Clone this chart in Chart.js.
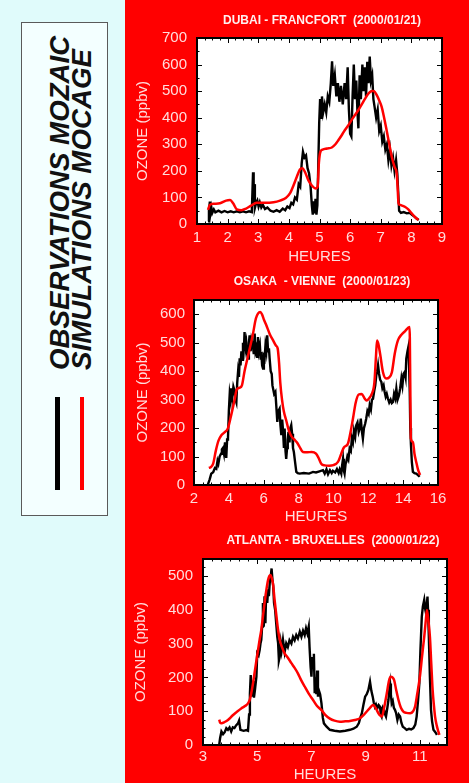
<!DOCTYPE html>
<html>
<head>
<meta charset="utf-8">
<script src="https://cdn.jsdelivr.net/npm/chart.js@4.4.0/dist/chart.umd.min.js"></script>
<style>
  html, body { margin: 0; padding: 0; }
  body { width: 469px; height: 783px; position: relative; overflow: hidden; background: #ff0000; }
  #side { position: absolute; left: 0; top: 0; width: 125px; height: 783px; background: #e0fbfb; }
  #key { position: absolute; left: 21px; top: 22px; width: 87px; height: 494px; box-sizing: border-box;
         border: 1.5px solid #5a5a5a; background: #f3ffff; }
  .key-text { position: absolute; top: 370px; white-space: nowrap; color: #111;
              font: italic bold 27.7px/27px 'Liberation Sans', Arial, sans-serif;
              transform-origin: 0 0; transform: rotate(-90deg); }
  .key-line { position: absolute; top: 397px; height: 93px; }
  canvas { position: absolute; left: 125px; }
</style>
</head>
<body>
<div id="side"></div>
<div id="key"></div>
<div class="key-text" style="left:46px">OBSERVATIONS MOZAIC</div>
<div class="key-text" style="left:68px">SIMULATIONS MOCAGE</div>
<div class="key-line" style="left:55px; width:5px; background:#000"></div>
<div class="key-line" style="left:80px; width:4px; background:#ff0000"></div>

<canvas id="dubai" width="344" height="270" style="top:0px"></canvas>
<canvas id="osaka" width="344" height="255" style="top:270px"></canvas>
<canvas id="atlanta" width="344" height="258" style="top:525px"></canvas>

<script>
// flight hours / ozone (ppbv) pairs, MOZAIC measurements and MOCAGE model
const dubaiObs = [
  [1.36, 10], [1.39, 50], [1.42, 84], [1.44, 40], [1.47, 62], [1.50, 42], [1.55, 55], [1.60, 44],
  [1.70, 50], [1.80, 44], [1.90, 49], [2.00, 44], [2.10, 48], [2.20, 44], [2.30, 48], [2.40, 44],
  [2.50, 48], [2.60, 44], [2.70, 48], [2.79, 45], [2.81, 120], [2.83, 195], [2.85, 70], [2.87, 150],
  [2.89, 60], [2.93, 78], [2.97, 88], [3.01, 66], [3.05, 82], [3.10, 62], [3.15, 72], [3.22, 56],
  [3.30, 62], [3.40, 50], [3.50, 46], [3.60, 52], [3.70, 46], [3.80, 58], [3.88, 52], [3.95, 66],
  [4.02, 60], [4.08, 80], [4.14, 74], [4.20, 100], [4.26, 92], [4.32, 150], [4.37, 140], [4.42, 230],
  [4.46, 272], [4.51, 250], [4.56, 258], [4.61, 210], [4.66, 190], [4.71, 140], [4.75, 70], [4.78, 35],
  [4.81, 85], [4.84, 40], [4.87, 95], [4.90, 35], [4.93, 70], [4.96, 220], [4.99, 380], [5.02, 470],
  [5.05, 400], [5.08, 480], [5.12, 420], [5.17, 450], [5.22, 420], [5.27, 480], [5.32, 460], [5.37, 530],
  [5.41, 612], [5.45, 520], [5.50, 560], [5.55, 480], [5.60, 530], [5.65, 460], [5.70, 520], [5.76, 450],
  [5.82, 530], [5.87, 470], [5.92, 590], [5.96, 430], [6.00, 340], [6.04, 330], [6.08, 480], [6.12, 600],
  [6.16, 470], [6.20, 540], [6.24, 420], [6.27, 360], [6.31, 560], [6.35, 470], [6.40, 600], [6.44, 500],
  [6.48, 590], [6.52, 480], [6.56, 610], [6.60, 530], [6.64, 630], [6.68, 540], [6.72, 560], [6.76, 470],
  [6.80, 440], [6.85, 400], [6.90, 430], [6.95, 350], [7.00, 370], [7.05, 310], [7.10, 330], [7.15, 280],
  [7.20, 300], [7.25, 240], [7.30, 280], [7.35, 220], [7.40, 250], [7.45, 200], [7.50, 240], [7.54, 190],
  [7.57, 120], [7.60, 50], [7.66, 42], [7.75, 45], [7.85, 40], [7.95, 42], [8.02, 35], [8.10, 28],
  [8.18, 20], [8.24, 15]
];
const dubaiSim = [
  [1.36, 53], [1.42, 72], [1.55, 76], [1.75, 78], [1.95, 88], [2.08, 90], [2.18, 78], [2.30, 55],
  [2.45, 52], [2.60, 58], [2.75, 68], [2.95, 80], [3.20, 80], [3.50, 82], [3.71, 88], [3.90, 98],
  [4.04, 116], [4.15, 145], [4.26, 178], [4.36, 205], [4.44, 210], [4.54, 192], [4.63, 166], [4.75, 145],
  [4.88, 134], [4.94, 140], [4.98, 230], [5.03, 272], [5.10, 280], [5.25, 284], [5.40, 288], [5.52, 300],
  [5.62, 316], [5.73, 335], [5.83, 354], [5.95, 373], [6.05, 392], [6.16, 410], [6.27, 429], [6.38, 450],
  [6.49, 472], [6.58, 488], [6.65, 497], [6.72, 501], [6.78, 500], [6.87, 485], [6.95, 465], [7.03, 441],
  [7.11, 400], [7.19, 354], [7.28, 300], [7.36, 253], [7.45, 215], [7.52, 191], [7.55, 140], [7.58, 78],
  [7.63, 72], [7.72, 68], [7.80, 64], [7.90, 55], [8.01, 40], [8.12, 26], [8.23, 15]
];

const osakaObs = [
  [2.80, 2], [2.90, 20], [2.99, 40], [3.10, 45], [3.20, 60], [3.28, 57], [3.35, 85], [3.40, 75],
  [3.47, 100], [3.55, 110], [3.60, 125], [3.66, 130], [3.72, 110], [3.78, 150], [3.85, 95], [3.90, 160],
  [3.95, 165], [4.00, 260], [4.05, 320], [4.10, 300], [4.14, 340], [4.20, 310], [4.26, 345], [4.33, 330],
  [4.38, 300], [4.43, 290], [4.48, 360], [4.53, 400], [4.58, 380], [4.62, 445], [4.67, 420], [4.72, 470],
  [4.78, 440], [4.81, 500], [4.86, 470], [4.90, 537], [4.95, 480], [5.00, 500], [5.05, 460], [5.10, 444],
  [5.15, 500], [5.19, 526], [5.25, 470], [5.30, 510], [5.38, 490], [5.43, 460], [5.48, 532], [5.53, 470],
  [5.57, 480], [5.62, 450], [5.67, 520], [5.72, 470], [5.78, 490], [5.83, 440], [5.86, 467], [5.91, 420],
  [5.96, 409], [6.01, 450], [6.05, 444], [6.10, 490], [6.15, 470], [6.20, 526], [6.25, 470], [6.30, 480],
  [6.34, 444], [6.40, 400], [6.46, 390], [6.50, 350], [6.54, 338], [6.60, 320], [6.67, 327], [6.72, 280],
  [6.78, 222], [6.84, 260], [6.91, 268], [6.96, 210], [7.01, 175], [7.06, 230], [7.11, 190], [7.16, 130],
  [7.20, 198], [7.25, 120], [7.29, 92], [7.34, 130], [7.38, 160], [7.42, 187], [7.48, 150], [7.53, 200],
  [7.58, 210], [7.63, 180], [7.68, 130], [7.73, 116], [7.80, 80], [7.87, 46], [7.95, 42], [8.06, 40],
  [8.30, 42], [8.60, 40], [8.83, 46], [9.00, 44], [9.20, 48], [9.40, 52], [9.50, 40], [9.60, 55],
  [9.69, 38], [9.80, 52], [9.90, 42], [9.97, 50], [10.10, 44], [10.20, 56], [10.30, 42], [10.36, 55],
  [10.45, 40], [10.50, 70], [10.55, 92], [10.60, 50], [10.64, 40], [10.70, 75], [10.74, 81], [10.80, 100],
  [10.86, 90], [10.93, 128], [11.00, 120], [11.06, 165], [11.12, 151], [11.18, 190], [11.25, 170], [11.31, 210],
  [11.38, 220], [11.45, 187], [11.51, 200], [11.57, 233], [11.63, 190], [11.69, 163], [11.75, 200], [11.82, 215],
  [11.88, 233], [11.95, 260], [12.02, 250], [12.08, 280], [12.15, 265], [12.21, 300], [12.27, 303], [12.34, 330],
  [12.40, 350], [12.46, 386], [12.51, 400], [12.56, 421], [12.62, 390], [12.68, 370], [12.75, 362], [12.81, 340],
  [12.88, 350], [12.94, 327], [13.00, 310], [13.06, 320], [13.13, 303], [13.20, 290], [13.28, 300], [13.35, 288],
  [13.42, 292], [13.48, 320], [13.55, 305], [13.61, 338], [13.68, 300], [13.76, 315], [13.83, 340], [13.90, 374],
  [13.96, 350], [14.02, 390], [14.09, 397], [14.14, 380], [14.18, 444], [14.25, 470], [14.30, 485], [14.34, 420],
  [14.38, 327], [14.41, 200], [14.45, 139], [14.50, 80], [14.56, 46], [14.65, 42], [14.75, 40], [14.85, 35],
  [14.95, 29]
];
const osakaSim = [
  [2.85, 60], [2.95, 62], [3.10, 75], [3.25, 120], [3.40, 155], [3.57, 175], [3.75, 185], [3.95, 200],
  [4.15, 250], [4.33, 300], [4.45, 335], [4.62, 342], [4.75, 350], [4.90, 400], [5.05, 440], [5.20, 480],
  [5.38, 530], [5.55, 585], [5.67, 602], [5.80, 608], [5.90, 600], [6.02, 580], [6.15, 561], [6.35, 530],
  [6.54, 508], [6.70, 490], [6.80, 480], [6.88, 430], [6.95, 360], [7.05, 300], [7.15, 260], [7.30, 225],
  [7.45, 190], [7.60, 170], [7.75, 160], [7.90, 150], [8.05, 135], [8.25, 116], [8.50, 115], [8.75, 116],
  [9.00, 110], [9.15, 95], [9.30, 75], [9.50, 69], [9.75, 68], [10.00, 70], [10.26, 81], [10.45, 110],
  [10.60, 132], [10.83, 145], [10.98, 185], [11.12, 233], [11.28, 290], [11.45, 318], [11.62, 320], [11.78, 305],
  [11.90, 297], [12.05, 305], [12.20, 320], [12.35, 360], [12.44, 450], [12.50, 508], [12.58, 495], [12.68, 460],
  [12.84, 397], [13.03, 374], [13.20, 378], [13.35, 395], [13.52, 462], [13.70, 508], [13.90, 528], [14.10, 540],
  [14.37, 555], [14.41, 350], [14.44, 163], [14.56, 151], [14.65, 110], [14.75, 81], [14.85, 55], [14.97, 35]
];

const atlantaObs = [
  [3.60, 2], [3.63, 20], [3.68, 40], [3.74, 32], [3.80, 38], [3.86, 50], [3.92, 45], [3.98, 52],
  [4.04, 40], [4.10, 52], [4.16, 50], [4.22, 58], [4.29, 64], [4.33, 72], [4.38, 45], [4.50, 42],
  [4.60, 44], [4.66, 42], [4.70, 90], [4.73, 150], [4.76, 207], [4.79, 160], [4.81, 143], [4.85, 190],
  [4.88, 140], [4.92, 165], [4.97, 202], [5.00, 271], [5.05, 265], [5.09, 281], [5.12, 300], [5.15, 311],
  [5.18, 350], [5.21, 420], [5.24, 350], [5.27, 440], [5.30, 360], [5.33, 450], [5.37, 420], [5.40, 460],
  [5.43, 440], [5.46, 478], [5.50, 500], [5.53, 522], [5.56, 490], [5.59, 470], [5.62, 420], [5.66, 400],
  [5.70, 360], [5.74, 320], [5.77, 301], [5.80, 250], [5.83, 261], [5.87, 300], [5.90, 280], [5.95, 311],
  [6.01, 275], [6.07, 301], [6.13, 290], [6.19, 310], [6.26, 300], [6.32, 320], [6.38, 310], [6.44, 325],
  [6.50, 315], [6.57, 335], [6.63, 320], [6.69, 338], [6.75, 325], [6.80, 345], [6.85, 330], [6.90, 350],
  [6.93, 290], [6.97, 230], [7.00, 202], [7.03, 260], [7.06, 230], [7.09, 270], [7.12, 153], [7.15, 200],
  [7.18, 150], [7.21, 220], [7.24, 143], [7.28, 160], [7.32, 150], [7.37, 123], [7.42, 80], [7.46, 64],
  [7.55, 55], [7.68, 45], [7.85, 42], [8.05, 40], [8.25, 42], [8.42, 45], [8.55, 48], [8.67, 54],
  [8.75, 65], [8.80, 80], [8.86, 94], [8.92, 120], [8.98, 143], [9.04, 150], [9.10, 163], [9.16, 187],
  [9.21, 160], [9.26, 143], [9.30, 125], [9.34, 113], [9.38, 120], [9.43, 108], [9.48, 118], [9.53, 113],
  [9.56, 90], [9.59, 84], [9.64, 110], [9.68, 104], [9.72, 90], [9.75, 84], [9.80, 110], [9.84, 133],
  [9.88, 170], [9.90, 182], [9.93, 150], [9.96, 123], [10.00, 130], [10.04, 110], [10.08, 104], [10.12, 95],
  [10.17, 74], [10.22, 90], [10.27, 84], [10.32, 65], [10.37, 54], [10.44, 50], [10.51, 45], [10.60, 48],
  [10.68, 46], [10.76, 50], [10.83, 60], [10.88, 84], [10.93, 130], [10.98, 182], [11.02, 280], [11.07, 379],
  [11.11, 410], [11.16, 429], [11.20, 400], [11.23, 389], [11.26, 420], [11.28, 439], [11.30, 400], [11.33, 320],
  [11.37, 200], [11.41, 104], [11.45, 70], [11.50, 45], [11.57, 38], [11.63, 30]
];
const atlantaSim = [
  [3.60, 75], [3.63, 66], [3.68, 64], [3.80, 68], [3.92, 74], [4.10, 88], [4.25, 98], [4.41, 108],
  [4.55, 115], [4.66, 123], [4.73, 135], [4.78, 153], [4.85, 185], [4.90, 212], [4.97, 250], [5.03, 281],
  [5.09, 312], [5.15, 340], [5.21, 380], [5.27, 419], [5.34, 460], [5.40, 488], [5.45, 500], [5.49, 503],
  [5.53, 495], [5.58, 478], [5.64, 430], [5.71, 380], [5.77, 340], [5.83, 311], [5.92, 288], [6.01, 271],
  [6.13, 258], [6.26, 242], [6.38, 228], [6.50, 212], [6.62, 192], [6.75, 173], [6.90, 152], [7.06, 133],
  [7.20, 116], [7.37, 103], [7.50, 90], [7.68, 78], [7.85, 72], [8.05, 69], [8.25, 70], [8.42, 71],
  [8.60, 74], [8.79, 79], [8.92, 88], [9.04, 99], [9.16, 110], [9.28, 118], [9.38, 108], [9.47, 94],
  [9.55, 86], [9.60, 84], [9.68, 110], [9.78, 153], [9.86, 190], [9.92, 202], [9.99, 200], [10.05, 192],
  [10.12, 165], [10.21, 133], [10.30, 110], [10.39, 99], [10.50, 95], [10.64, 94], [10.75, 100], [10.82, 113],
  [10.90, 150], [11.00, 202], [11.08, 262], [11.16, 320], [11.22, 370], [11.26, 399], [11.31, 370], [11.37, 320],
  [11.42, 240], [11.47, 163], [11.52, 115], [11.56, 84], [11.62, 58], [11.68, 40], [11.72, 30]
];

// axis labels
const dubaiHourTicks = [1, 2, 3, 4, 5, 6, 7, 8, 9];
const dubaiOzoneTicks = [0, 100, 200, 300, 400, 500, 600, 700];
const osakaHourTicks = [2, 4, 6, 8, 10, 12, 14, 16];
const osakaOzoneTicks = [0, 100, 200, 300, 400, 500, 600];
const atlantaHourTicks = [3, 5, 7, 9, 11];
const atlantaOzoneTicks = [0, 100, 200, 300, 400, 500];

const FONT = "'Liberation Sans', Arial, sans-serif";
const LABEL_COLOR = '#ffdcdc';

// white plot box, black frame and IDL-style inward ticks on all four sides
const framePlugin = {
  id: 'frame',
  beforeDatasetsDraw(chart) {
    const { ctx, chartArea: a } = chart;
    ctx.save();
    ctx.fillStyle = '#ffffff';
    ctx.fillRect(a.left, a.top, a.right - a.left, a.bottom - a.top);
    ctx.restore();
  },
  afterDatasetsDraw(chart, args, opts) {
    const { ctx, chartArea: a, scales } = chart;
    ctx.save();
    ctx.strokeStyle = '#000';
    ctx.lineWidth = 1;
    const marks = (scale, step, len) => {
      const n = Math.round((scale.max - scale.min) / step + 1e-6);
      for (let i = 0; i <= n; i++) {
        const v = scale.min + i * step;
        if (v > scale.max + 1e-6) break;
        const p = Math.round(scale.getPixelForValue(v)) + 0.5;
        ctx.beginPath();
        if (scale.isHorizontal()) {
          ctx.moveTo(p, a.bottom); ctx.lineTo(p, a.bottom - len);
          ctx.moveTo(p, a.top); ctx.lineTo(p, a.top + len);
        } else {
          ctx.moveTo(a.left, p); ctx.lineTo(a.left + len, p);
          ctx.moveTo(a.right, p); ctx.lineTo(a.right - len, p);
        }
        ctx.stroke();
      }
    };
    marks(scales.x, opts.xMinor, 2.5);
    marks(scales.x, opts.xMajor, 5);
    marks(scales.y, opts.yMinor, 2.5);
    marks(scales.y, opts.yMajor, 5);
    ctx.lineWidth = 2;
    ctx.strokeRect(a.left, a.top, a.right - a.left, a.bottom - a.top);
    ctx.restore();
  }
};

// flight name above each panel
const headerPlugin = {
  id: 'header',
  afterDraw(chart, args, opts) {
    const { ctx } = chart;
    ctx.save();
    ctx.font = 'bold 12px ' + FONT;
    ctx.fillStyle = '#fff0f0';
    ctx.textAlign = 'center';
    ctx.textBaseline = 'middle';
    ctx.fillText(opts.text, opts.x, opts.y);
    ctx.restore();
  }
};

function toPoints(rows) {
  return rows.map(r => ({ x: r[0], y: r[1] }));
}

function makePanel(id, p) {
  const canvas = document.getElementById(id);
  const W = canvas.width, H = canvas.height;
  return new Chart(canvas, {
    type: 'line',
    data: {
      datasets: [
        { label: 'SIMULATIONS MOCAGE', data: toPoints(p.sim), borderColor: '#ff0000', borderWidth: 2.5,
          pointRadius: 0, cubicInterpolationMode: 'monotone', tension: 0.3 },
        { label: 'OBSERVATIONS MOZAIC', data: toPoints(p.obs), borderColor: '#000000', borderWidth: 2.4,
          pointRadius: 0, tension: 0 }
      ]
    },
    options: {
      responsive: false,
      animation: false,
      events: [],
      layout: { padding: { top: p.plot.top, right: W - p.plot.right, left: 0, bottom: 0 } },
      plugins: {
        legend: { display: false },
        tooltip: { enabled: false },
        frame: { xMajor: p.xMajor, xMinor: p.xMinor, yMajor: p.yMajor, yMinor: p.yMinor },
        header: { text: p.title, x: p.titleX, y: p.titleY }
      },
      scales: {
        x: {
          type: 'linear',
          min: p.xMin, max: p.xMax,
          grid: { display: false, drawTicks: false },
          border: { display: false },
          afterBuildTicks: s => { s.ticks = p.xTicks.map(v => ({ value: v })); },
          afterFit: s => { s.height = H - p.plot.bottom; },
          ticks: { color: LABEL_COLOR, font: { family: FONT, size: 15 }, padding: p.xLabelPad,
                   autoSkip: false, maxRotation: 0, minRotation: 0 },
          title: { display: true, text: 'HEURES', color: LABEL_COLOR,
                   font: { family: FONT, size: 15, lineHeight: 1 }, padding: { top: 0, bottom: p.xTitlePad } }
        },
        y: {
          type: 'linear',
          min: 0, max: p.yMax,
          grid: { display: false, drawTicks: false },
          border: { display: false },
          afterBuildTicks: s => { s.ticks = p.yTicks.map(v => ({ value: v })); },
          afterFit: s => { s.width = p.plot.left; },
          ticks: { color: LABEL_COLOR, font: { family: FONT, size: 15 }, padding: p.yLabelPad },
          title: { display: true, text: 'OZONE (ppbv)', color: LABEL_COLOR,
                   font: { family: FONT, size: 15, lineHeight: 1 }, padding: { top: p.yTitlePad, bottom: 0 } }
        }
      }
    },
    plugins: [framePlugin, headerPlugin]
  });
}

makePanel('dubai', {
  title: 'DUBAI - FRANCFORT  (2000/01/21)', titleX: 197, titleY: 21,
  obs: dubaiObs, sim: dubaiSim,
  xMin: 1, xMax: 9, xTicks: dubaiHourTicks, xMajor: 1, xMinor: 0.25,
  yMax: 700, yTicks: dubaiOzoneTicks, yMajor: 100, yMinor: 50,
  plot: { left: 72, top: 38, right: 317, bottom: 224 },
  xLabelPad: 5, xTitlePad: 6, yLabelPad: 10, yTitlePad: 10.5
});

makePanel('osaka', {
  title: 'OSAKA  - VIENNE  (2000/01/23)', titleX: 197, titleY: 12,
  obs: osakaObs, sim: osakaSim,
  xMin: 2, xMax: 16, xTicks: osakaHourTicks, xMajor: 2, xMinor: 0.5,
  yMax: 650, yTicks: osakaOzoneTicks, yMajor: 100, yMinor: 50,
  plot: { left: 69, top: 30, right: 313, bottom: 215 },
  xLabelPad: 5, xTitlePad: 1, yLabelPad: 9, yTitlePad: 10
});

makePanel('atlanta', {
  title: 'ATLANTA - BRUXELLES  (2000/01/22)', titleX: 208, titleY: 16,
  obs: atlantaObs, sim: atlantaSim,
  xMin: 3, xMax: 12, xTicks: atlantaHourTicks, xMajor: 2, xMinor: 1 / 3,
  yMax: 550, yTicks: atlantaOzoneTicks, yMajor: 100, yMinor: 25,
  plot: { left: 78, top: 34, right: 322, bottom: 220 },
  xLabelPad: 2.5, xTitlePad: 0.5, yLabelPad: 10, yTitlePad: 8.5
});
</script>
</body>
</html>
